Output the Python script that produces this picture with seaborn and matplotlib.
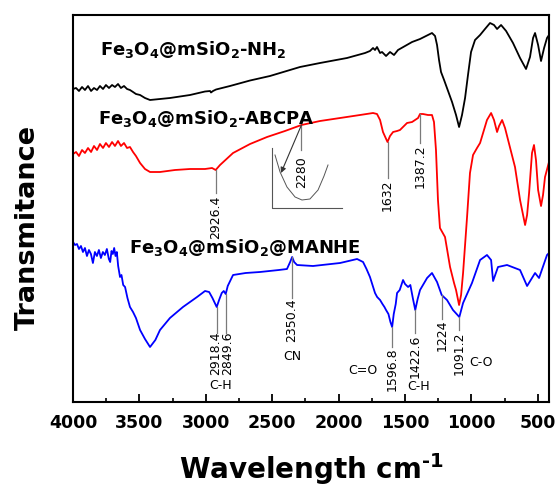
import matplotlib
matplotlib.use("Agg")
import matplotlib.pyplot as plt
from matplotlib.ticker import MultipleLocator
import pandas as pd
import seaborn as sns

# ---------------- data ----------------
series_names = ["NH2", "ABCPA", "MANHE"]
series_labels = [r"Fe$_3$O$_4$@mSiO$_2$-NH$_2$",
                 r"Fe$_3$O$_4$@mSiO$_2$-ABCPA",
                 r"Fe$_3$O$_4$@mSiO$_2$@MANHE"]
series_colors = ["#000000", "#ff0000", "#0000ff"]

black_wn = [4000, 3977, 3955, 3932, 3910, 3887, 3864, 3842, 3819, 3797, 3774, 3752, 3729, 3706,
            3684, 3661, 3639, 3616, 3593, 3571, 3548, 3526, 3495, 3458, 3420, 3345, 3270, 3119,
            3006, 2968, 2961, 2946, 2923, 2818, 2667, 2517, 2291, 2140, 1937, 1801, 1764, 1741,
            1726, 1711, 1688, 1673, 1643, 1613, 1583, 1553, 1500, 1447, 1387, 1327, 1297, 1274,
            1259, 1244, 1229, 1206, 1176, 1146, 1116, 1093, 1071, 1048, 1026, 1003, 973, 935,
            898, 860, 830, 807, 777, 739, 687, 634, 589, 559, 536, 521, 498, 476, 453, 431, 416]
black_t = [313, 314, 311, 315, 312, 316, 311, 314, 312, 316, 313, 317, 314, 317,
           315, 318, 314, 316, 313, 312, 310, 308, 307, 304, 302, 303, 304, 307,
           310.5, 311, 309.5, 311, 312.5, 316, 321.5, 326, 335, 339, 344, 349, 351, 354,
           352, 355, 349, 350, 346, 350, 347, 352, 356, 360, 363, 367, 369, 366,
           357, 342, 330, 322, 311, 300, 287, 275, 287, 304, 327, 350, 362, 367,
           373, 379, 377, 373, 377, 371, 359, 344, 333, 345, 364, 369, 357, 341, 354, 364, 367]

red_wn = [4000, 3977, 3955, 3932, 3910, 3887, 3864, 3842, 3819, 3797, 3774, 3752, 3729, 3706,
          3684, 3661, 3639, 3616, 3593, 3571, 3548, 3526, 3495, 3458, 3420, 3345, 3232, 3119,
          3006, 2953, 2926, 2893, 2795, 2667, 2539, 2404, 2280, 2140, 1989, 1839, 1741, 1711,
          1688, 1666, 1632, 1613, 1590, 1560, 1538, 1485, 1447, 1402, 1387, 1365, 1327, 1297,
          1282, 1267, 1252, 1237, 1199, 1161, 1131, 1116, 1093, 1078, 1063, 1048, 1033, 1011,
          988, 958, 935, 883, 852, 830, 807, 792, 769, 747, 724, 672, 634, 596, 581, 566,
          544, 529, 514, 498, 476, 461, 446, 416]
red_t = [248, 250, 246, 252, 249, 254, 250, 256, 252, 258, 254, 259, 255, 260,
         256, 261, 256, 259, 254, 255, 250, 246, 239, 233, 230, 230, 232, 233,
         233, 234, 232, 237, 249, 258, 265, 271, 277, 281, 284, 287, 289, 288,
         282, 270, 260, 266, 270, 271, 272, 279, 280, 284, 288, 288, 287, 287,
         280, 252, 202, 174, 165, 135, 119, 112, 97, 107, 129, 157, 185, 229,
         247, 254, 259, 282, 289, 282, 270, 276, 282, 274, 262, 235, 202, 177, 187, 209,
         249, 257, 242, 212, 196, 207, 225, 240]

blue_wn = [4000, 3985, 3970, 3955, 3940, 3925, 3910, 3895, 3880, 3865, 3850, 3835, 3820, 3805,
           3790, 3775, 3760, 3745, 3730, 3720, 3710, 3700, 3690, 3680, 3670, 3660, 3646, 3635,
           3622, 3608, 3590, 3571, 3548, 3526, 3495, 3458, 3420, 3380, 3345, 3270, 3172, 3066,
           3006, 2975, 2950, 2918, 2900, 2880, 2865, 2850, 2835, 2795, 2700, 2592, 2450, 2389,
           2365, 2350, 2335, 2313, 2193, 1989, 1861, 1816, 1790, 1764, 1745, 1726, 1710, 1688,
           1670, 1655, 1643, 1625, 1610, 1597, 1585, 1570, 1560, 1540, 1515, 1500, 1477, 1460,
           1440, 1423, 1405, 1387, 1334, 1297, 1259, 1224, 1184, 1139, 1091, 1063, 996, 935,
           883, 852, 837, 800, 732, 634, 581, 521, 491, 431, 416]
blue_t = [160, 157, 158, 153, 156, 150, 154, 146, 152, 148, 139, 150, 146, 152,
          144, 150, 147, 153, 143, 140, 151, 148, 154, 146, 150, 136, 125, 127,
          117, 115, 104, 95, 90, 84, 72, 63, 55, 62, 72, 84, 95, 105,
          111, 110, 104, 95, 102, 109, 111, 108, 116, 127, 129, 130, 132, 133,
          140, 145, 140, 137, 136, 139, 143, 140, 133, 125, 117, 109, 105, 102,
          98, 95, 92, 88, 80, 75, 88, 98, 109, 112, 122, 118, 115, 117,
          103, 92, 103, 112, 124, 129, 120, 107, 102, 92, 85, 99, 119, 142,
          147, 142, 121, 135, 137, 132, 116, 129, 124, 147, 149]

# peak annotations
peak_labels = ["2926.4", "2280", "1632", "1387.2", "2918.4", "2849.6",
               "2350.4", "1596.8", "1422.6", "1224", "1091.2"]
peak_wn = [2926.4, 2280, 1632, 1387.2, 2918.4, 2849.6, 2350.4, 1596.8, 1422.6, 1224, 1091.2]
peak_line_top = [232, 277, 260, 288, 95, 108, 145, 75, 92, 107, 85]
peak_line_bottom = [209, 252, 224, 259, 69, 69, 104, 55, 69, 83, 72]
peak_text_wn = [2926.4, 2280, 1632, 1387.2, 2925, 2838, 2350.4, 1596.8, 1422.6, 1224, 1091.2]
peak_text_t = [185, 230, 207, 236, 49, 49, 82, 33, 46, 67, 49]

group_labels = ["C-H", "CN", "C=O", "C-H", "C-O"]
group_wn = [2886, 2350, 1815, 1395, 925]
group_t = [16.5, 45, 32, 15, 39]

# inset sketch near 2280
inset_axis_wn = [2502, 2502, 1974]
inset_axis_t = [254, 194, 194]
inset_curve_wn = [2479, 2441, 2389, 2328, 2276, 2216, 2155, 2110, 2080]
inset_curve_t = [247, 230, 215, 205, 202, 203, 212, 226, 237]
arrow_from = (2280, 277)
arrow_to = (2434, 229)

series_text_wn = [3797, 3812, 3578]
series_text_t = [347, 278, 149]

xticks = [4000, 3500, 3000, 2500, 2000, 1500, 1000, 500]

# ---------------- figure ----------------
plt.rcParams["font.family"] = ["DejaVu Sans"]
plt.rcParams["mathtext.fontset"] = "custom"
plt.rcParams["mathtext.rm"] = "DejaVu Sans:bold"
plt.rcParams["mathtext.bf"] = "DejaVu Sans:bold"
plt.rcParams["mathtext.sf"] = "DejaVu Sans:bold"
plt.rcParams["mathtext.it"] = "DejaVu Sans:italic:bold"
plt.rcParams["mathtext.default"] = "bf"

fig = plt.figure(figsize=(5.56, 4.91), dpi=100)
ax = fig.add_axes([73 / 556, 89 / 491, 476 / 556, 387 / 491])

frames = []
for name, w, t in zip(series_names, [black_wn, red_wn, blue_wn], [black_t, red_t, blue_t]):
    frames.append(pd.DataFrame({"wn": w, "T": t, "sample": name}))
df = pd.concat(frames, ignore_index=True)

sns.lineplot(data=df, x="wn", y="T", hue="sample", hue_order=series_names,
             palette=dict(zip(series_names, series_colors)), estimator=None,
             sort=False, legend=False, linewidth=1.3, ax=ax)

ax.set_xlim(4000, 416)
ax.set_ylim(0, 387)

# peak marker lines and labels
for lab, w, t0, t1, tw, tt in zip(peak_labels, peak_wn, peak_line_top, peak_line_bottom,
                                  peak_text_wn, peak_text_t):
    ax.plot([w, w], [t0, t1], color="#7a7a7a", lw=0.9)
    ax.text(tw, tt, lab, rotation=90, ha="center", va="center", fontsize=9, color="black")

for lab, w, t in zip(group_labels, group_wn, group_t):
    ax.text(w, t, lab, ha="center", va="center", fontsize=9, color="black")

# inset sketch
ax.plot(inset_axis_wn, inset_axis_t, color="#555555", lw=0.8)
ax.plot(inset_curve_wn, inset_curve_t, color="#555555", lw=0.7)
ax.annotate("", xy=arrow_to, xytext=arrow_from,
            arrowprops=dict(arrowstyle="-|>", color="#333333", lw=0.8, mutation_scale=8,
                            shrinkA=0, shrinkB=0))

for lab, w, t in zip(series_labels, series_text_wn, series_text_t):
    ax.text(w, t, lab, ha="left", va="baseline", fontsize=13, fontweight="bold", color="black")

# axes styling
ax.set_xticks(xticks)
ax.set_xticklabels([str(v) for v in xticks])
ax.xaxis.set_minor_locator(MultipleLocator(250))
ax.set_yticks([])
ax.tick_params(axis="x", which="major", direction="in", length=6, width=1.3, pad=9,
               labelsize=12.5)
ax.tick_params(axis="x", which="minor", direction="in", length=3, width=1.2)
for lab in ax.get_xticklabels():
    lab.set_fontweight("bold")
for sp in ax.spines.values():
    sp.set_linewidth(1.5)
    sp.set_color("black")

ax.set_xlabel(r"Wavelength cm$^{\text{-1}}$", fontsize=20, fontweight="bold")
ax.xaxis.set_label_coords(0.5, -0.128)
ax.set_ylabel("Transmitance", fontsize=19.5, fontweight="bold")
ax.yaxis.set_label_coords(-0.067, 0.45)

fig.savefig("out.png", dpi=100)
